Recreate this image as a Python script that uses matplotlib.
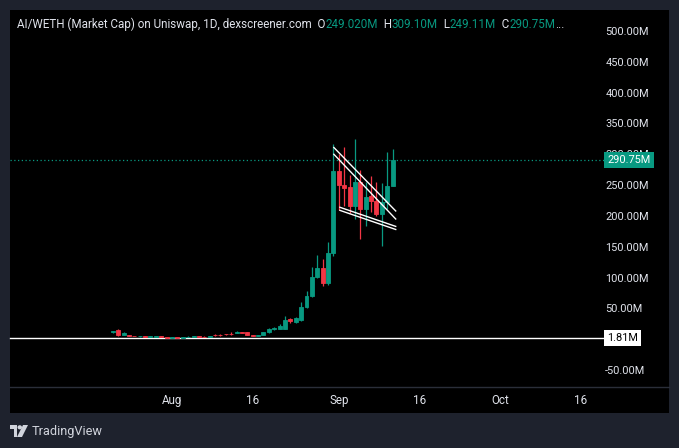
import numpy as np
import pandas as pd
import matplotlib

matplotlib.use("Agg")
import matplotlib.pyplot as plt  # noqa: E402
import matplotlib.dates as mdates  # noqa: E402
import matplotlib.transforms as mtransforms  # noqa: E402
from matplotlib.lines import Line2D  # noqa: E402
from matplotlib.patches import Rectangle, Polygon, Circle  # noqa: E402

UP = "#089981"
DOWN = "#f23645"
TXT = "#e0e3eb"
FRAME = "#1e222d"

# daily candles, market cap in millions
dates = pd.date_range("2024-07-21", periods=53, freq="D")
opens = [12.5, 15, 7, 6.5, 5.5, 5, 5, 4, 4, 4.5, 3.5, 2.7, 3.3, 2.5, 3.5, 3.8,
         4.5, 4, 3.5, 7.5, 7.5, 8.5, 9, 10, 11.5, 11, 7, 6, 7, 11, 16, 17, 17,
         33, 28, 31, 52, 70, 101, 115, 91, 140, 273, 250, 247, 216, 255, 211,
         232, 224, 203, 222, 249.02]
highs = [14, 16, 11, 7, 6, 6, 5.5, 5, 5.5, 5, 4, 4, 4, 4, 4.5, 5.5,
         5, 4.5, 6, 8, 8, 9, 11, 13, 12, 11.5, 7.5, 7, 12, 18, 20, 25, 38,
         35, 36, 60, 78, 117, 136, 130, 158, 316, 300, 311, 266, 324, 274, 255,
         264, 255, 253, 303, 309.10]
lows = [10, 6, 6.5, 5, 4.5, 3, 3.5, 3.5, 3.5, 3, 2, 2.5, 2, 2.2, 3, 3.5,
        3.5, 3, 3, 6, 6, 7.5, 7.5, 9.5, 10, 7, 5.5, 5.5, 6.5, 10, 15, 16, 16,
        27, 27, 30, 50, 68, 99, 86, 88, 135, 210, 216, 205, 195, 162, 183,
        206, 200, 151, 212, 249.11]
closes = [13.5, 6.5, 10, 5.5, 5, 5.3, 4, 4.5, 4.8, 3.5, 2.7, 3.3, 2.5, 3.5, 3.8,
          4.5, 4, 3.5, 5.5, 6.5, 6.8, 8, 8.5, 11, 10.5, 7.5, 6, 6.5, 11, 17, 18,
          22, 31, 29, 34, 52, 70, 101, 115, 91, 140, 273, 250, 246, 216, 255,
          211, 230, 224, 203, 222, 248, 290.75]

# hand-drawn wedge lines (two doubled lines)
upper_t = ["2024-08-31 02:00", "2024-09-11 14:00"]
upper_a = [311, 208]
upper_b = [300, 195]
lower_t = ["2024-09-01 05:00", "2024-09-11 14:00"]
lower_a = [214, 183]
lower_b = [209, 178]

last_price = 290.75
base_price = 1.81
yticks = [-50, 50, 100, 150, 200, 250, 300, 350, 400, 450, 500]
xtick_dates = ["2024-08-01", "2024-08-16", "2024-09-01", "2024-09-16",
               "2024-10-01", "2024-10-16"]
xtick_labels = ["Aug", "16", "Sep", "16", "Oct", "16"]

W, H = 679, 448
plt.rcParams["font.family"] = ["Roboto", "DejaVu Sans"]

fig = plt.figure(figsize=(W / 100, H / 100), dpi=100, facecolor=FRAME)


def fx(px):
    return px / W


def fy(py):
    return 1 - py / H


# black panel behind everything
fig.patches.append(Rectangle((fx(10), fy(413)), fx(659), 403 / H,
                             transform=fig.transFigure, facecolor="black",
                             edgecolor="none", zorder=-5))

ax = fig.add_axes([fx(10), fy(386), fx(580), 376 / H])
ax.set_facecolor("black")
for s in ax.spines.values():
    s.set_visible(False)

x = mdates.date2num(dates)
o = np.array(opens)
c = np.array(closes)
hi = np.array(highs)
lo = np.array(lows)
cols = np.where(c >= o, UP, DOWN)

ax.vlines(x, lo, hi, colors=cols, linewidth=0.9, zorder=3)
ax.bar(x, np.abs(c - o), bottom=np.minimum(o, c), width=0.74, color=cols,
       edgecolor=cols, linewidth=0.6, zorder=4)

for tt, a, b in [(upper_t, upper_a, upper_b), (lower_t, lower_a, lower_b)]:
    tx = mdates.date2num(pd.to_datetime(tt))
    ax.plot(tx, a, color="white", lw=1.0, zorder=5)
    ax.plot(tx, b, color="white", lw=1.0, zorder=5)

aug1 = mdates.date2num(pd.Timestamp("2024-08-01"))
ax.set_xlim(aug1 - 162 / 5.38, aug1 + 418 / 5.38)
ax.set_ylim(-75.9, 534)

ax.set_xticks(mdates.date2num(pd.to_datetime(xtick_dates)))
ax.set_xticklabels(xtick_labels)
ax.set_yticks(yticks)
ax.set_yticklabels([f"{v:.2f}M" for v in yticks])
ax.yaxis.tick_right()
ax.tick_params(axis="y", length=0, pad=11, labelsize=7.9, labelcolor=TXT)
ax.tick_params(axis="x", length=0, pad=6, labelsize=8.4, labelcolor=TXT)

# price lines
ax.axhline(last_price, xmin=0, xmax=1 + 15 / 580, color=UP, lw=0.9,
           ls=(0, (1, 2)), clip_on=False, zorder=2)
ax.axhline(base_price, xmin=0, xmax=1 + 15 / 580, color="white", lw=1.0,
           clip_on=False, zorder=2)

trans = mtransforms.blended_transform_factory(ax.transAxes, ax.transData)
ax.text(1 + 17 / 580, last_price, f"{last_price:.2f}M", transform=trans,
        ha="left", va="center", fontsize=7.9, color="white", zorder=10,
        bbox=dict(boxstyle="square,pad=0.3", fc=UP, ec="none"))
ax.text(1 + 17 / 580, base_price, f"{base_price:.2f}M", transform=trans,
        ha="left", va="center", fontsize=7.9, color="black", zorder=10,
        bbox=dict(boxstyle="square,pad=0.3", fc="white", ec="none"))

# axis separator
fig.add_artist(Line2D([fx(10), fx(669)], [fy(387), fy(387)], color="#2a2e39",
                      lw=1.0, transform=fig.transFigure))

# legend line, pieces chained one after another
parts = [("AI/WETH (Market Cap) on Uniswap, 1D, dexscreener.com  O", TXT),
         ("249.020M", UP), ("  H", TXT), ("309.10M", UP), ("  L", TXT),
         ("249.11M", UP), ("  C", TXT), ("290.75M", UP), ("...", TXT)]
prev = fig.text(fx(17), fy(24), parts[0][0], color=parts[0][1],
                fontsize=8.4, ha="left", va="center")
for s, col in parts[1:]:
    prev = ax.annotate(s, xy=(1, 0), xycoords=prev, ha="left", va="bottom",
                       color=col, fontsize=8.4, annotation_clip=False,
                       zorder=20)

# TradingView footer
lax = fig.add_axes([fx(10), fy(437), fx(18), 12 / H])
lax.set_xlim(0, 36)
lax.set_ylim(0, 26)
lax.axis("off")
logo = "#d1d4dc"
lax.add_patch(Polygon([(0, 26), (14, 26), (14, 0), (7, 0), (7, 18), (0, 18)],
                      closed=True, fc=logo, ec="none"))
lax.add_patch(Circle((19.5, 21), 4.5, fc=logo, ec="none"))
lax.add_patch(Polygon([(26, 26), (36, 26), (24, 0), (14, 0)], closed=True,
                      fc=logo, ec="none"))
fig.text(fx(32), fy(431), "TradingView", fontsize=9.2, color=logo,
         ha="left", va="center")

fig.savefig("out.png", dpi=100, facecolor=FRAME)
